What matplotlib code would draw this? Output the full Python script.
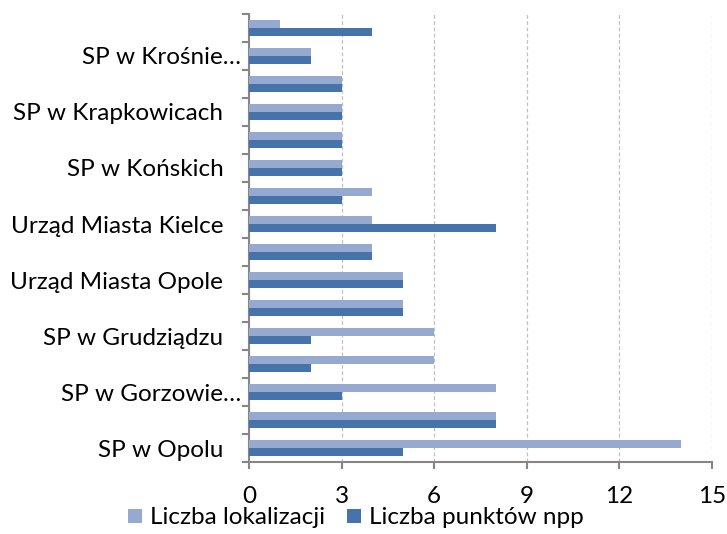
import numpy as np
import matplotlib.pyplot as plt
import matplotlib.transforms as mtransforms

# categories from bottom to top (unlabelled rows are skipped by the axis in the original)
categories = ["SP w Opolu", "", "SP w Gorzowie…", "", "SP w Grudziądzu", "",
              "Urząd Miasta Opole", "", "Urząd Miasta Kielce", "", "SP w Końskich", "",
              "SP w Krapkowicach", "", "SP w Krośnie…", ""]
lokalizacje = [14, 8, 8, 6, 6, 5, 5, 4, 4, 4, 3, 3, 3, 3, 2, 1]
punkty_npp = [5, 8, 3, 2, 2, 5, 5, 4, 8, 3, 3, 3, 3, 3, 2, 4]
x_ticks = [0, 3, 6, 9, 12, 15]

plt.rcParams['font.family'] = ['Lato', 'DejaVu Sans']
fs = 17.5

fig = plt.figure(figsize=(7.27, 5.34), dpi=100)
ax = fig.add_axes([0.3425, 0.1348, 0.637, 0.839])

y = np.arange(len(categories))
h = 0.286
ax.barh(y + h / 2, lokalizacje, height=h, color='#95A9D1', label='Liczba lokalizacji', zorder=3)
ax.barh(y - h / 2, punkty_npp, height=h, color='#4673AA', label='Liczba punktów npp', zorder=3)

ax.set_xlim(0, 15)
ax.set_ylim(-0.5, len(categories) - 0.5)
ax.set_xticks(x_ticks)
ax.set_xticklabels([str(t) for t in x_ticks], fontsize=fs)

ax.set_yticks(y)
ax.set_yticklabels(categories, fontsize=fs)
ax.tick_params(axis='y', length=0, pad=18.5)
ax.set_yticks(np.arange(-0.5, len(categories), 1), minor=True)
ax.tick_params(axis='y', which='minor', length=5, width=1.5, color='#868686')
ax.tick_params(axis='x', length=5, width=1.5, color='#868686', pad=12)

# truncated labels overflow to the right in the original
shift = mtransforms.ScaledTranslation(13 / 72, 0, fig.dpi_scale_trans)
for lab in ax.get_yticklabels():
    if lab.get_text().endswith('…'):
        lab.set_transform(lab.get_transform() + shift)

ax.grid(axis='x', linestyle=(0, (3, 2)), color='#C0C0C0', linewidth=0.9, zorder=0)
for s in ['top', 'right']:
    ax.spines[s].set_visible(False)
for s in ['left', 'bottom']:
    ax.spines[s].set_color('#868686')
    ax.spines[s].set_linewidth(1.5)

fig.legend(loc='center', bbox_to_anchor=(0.49, 0.03), ncol=2, frameon=False,
           fontsize=fs, handlelength=0.55, handleheight=0.55, handletextpad=0.35,
           columnspacing=0.9, borderpad=0)

plt.savefig('out.png', dpi=100)
